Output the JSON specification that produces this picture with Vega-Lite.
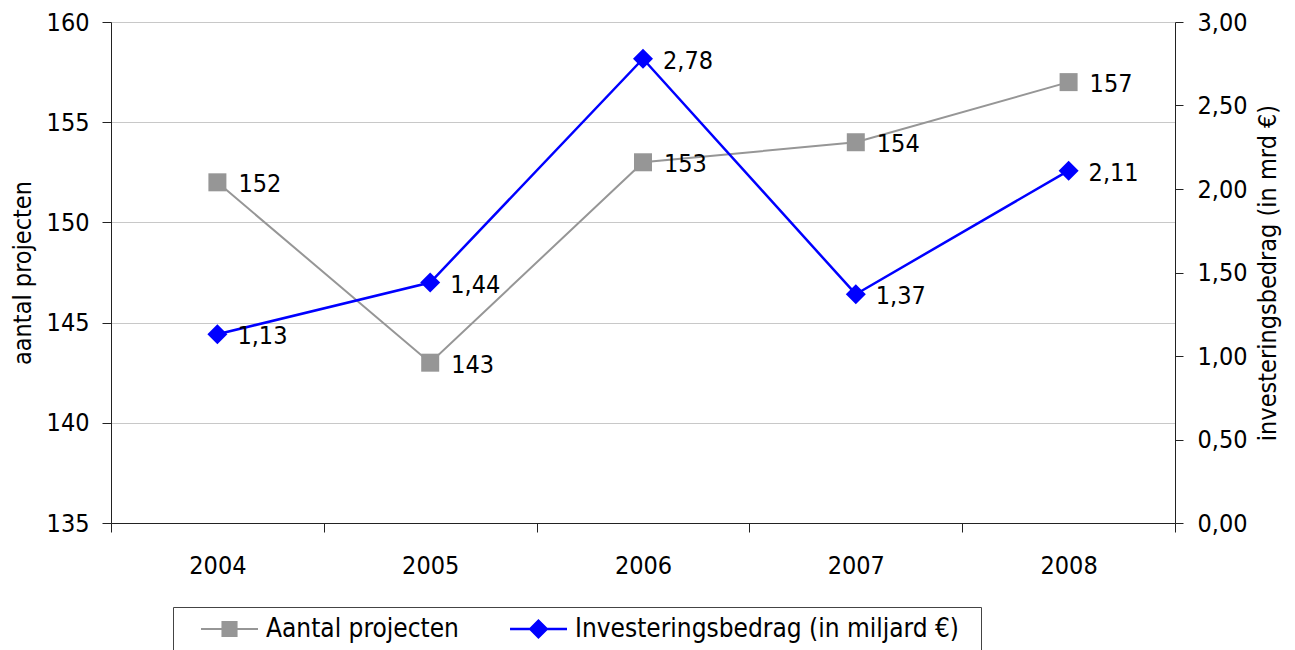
{
  "$schema": "https://vega.github.io/schema/vega-lite/v6.json",
  "width": 1064,
  "height": 501,
  "autosize": {"type": "none"},
  "padding": {"left": 111, "top": 22, "right": 120, "bottom": 127},
  "background": "white",
  "config": {
    "locale": {"number": {"decimal": ",", "thousands": ".", "grouping": [3], "currency": ["€", ""]}},
    "font": "DejaVu Sans Condensed",
    "view": {"stroke": null},
    "axis": {
      "labelFont": "DejaVu Sans Condensed",
      "titleFont": "DejaVu Sans Condensed",
      "labelFontSize": 25,
      "titleFontSize": 25,
      "titleFontWeight": "normal",
      "labelColor": "#000000",
      "titleColor": "#000000",
      "domainColor": "#222222",
      "tickColor": "#222222",
      "gridColor": "#c8c8c8",
      "gridWidth": 1
    },
    "legend": {"labelFont": "DejaVu Sans Condensed", "titleFont": "DejaVu Sans Condensed"}
  },
  "data": {
    "values": [
      {"year": "2004", "series": "Aantal projecten", "value": 152},
      {"year": "2005", "series": "Aantal projecten", "value": 143},
      {"year": "2006", "series": "Aantal projecten", "value": 153},
      {"year": "2007", "series": "Aantal projecten", "value": 154},
      {"year": "2008", "series": "Aantal projecten", "value": 157},
      {"year": "2004", "series": "Investeringsbedrag (in miljard €)", "value": 1.13},
      {"year": "2005", "series": "Investeringsbedrag (in miljard €)", "value": 1.44},
      {"year": "2006", "series": "Investeringsbedrag (in miljard €)", "value": 2.78},
      {"year": "2007", "series": "Investeringsbedrag (in miljard €)", "value": 1.37},
      {"year": "2008", "series": "Investeringsbedrag (in miljard €)", "value": 2.11}
    ]
  },
  "encoding": {
    "x": {
      "field": "year",
      "type": "ordinal",
      "scale": {"type": "band", "paddingInner": 0, "paddingOuter": 0},
      "axis": {
        "title": null,
        "labelAngle": 0,
        "tickBand": "extent",
        "tickSize": 9,
        "labelPadding": 21,
        "grid": false
      }
    }
  },
  "layer": [
    {
      "transform": [{"filter": "datum.series == 'Aantal projecten'"}],
      "encoding": {
        "y": {
          "field": "value",
          "type": "quantitative",
          "scale": {"domain": [135, 160], "nice": false, "zero": false},
          "axis": {
            "orient": "left",
            "values": [135, 140, 145, 150, 155, 160],
            "format": "d",
            "title": "aantal projecten",
            "tickSize": 9,
            "labelPadding": 13,
            "titlePadding": 11,
            "grid": true
          }
        }
      },
      "layer": [
        {"mark": {"type": "line", "color": "#969696", "strokeWidth": 2}},
        {"mark": {"type": "point", "shape": "square", "size": 324, "filled": true, "opacity": 1, "color": "#969696"}},
        {
          "mark": {"type": "text", "align": "left", "baseline": "middle", "dx": 21, "dy": 2, "fontSize": 25, "color": "#000000"},
          "encoding": {"text": {"field": "value", "type": "quantitative", "format": "d"}}
        }
      ]
    },
    {
      "transform": [{"filter": "datum.series == 'Investeringsbedrag (in miljard €)'"}],
      "encoding": {
        "y": {
          "field": "value",
          "type": "quantitative",
          "scale": {"domain": [0, 3], "nice": false},
          "axis": {
            "orient": "right",
            "values": [0, 0.5, 1, 1.5, 2, 2.5, 3],
            "format": ".2f",
            "title": "investeringsbedrag (in mrd €)",
            "titleAngle": 270,
            "titleBaseline": "top",
            "tickSize": 8,
            "labelPadding": 14,
            "titlePadding": 8,
            "grid": false
          }
        }
      },
      "layer": [
        {"mark": {"type": "line", "color": "#0000ff", "strokeWidth": 2.5}},
        {"mark": {"type": "point", "shape": "diamond", "size": 400, "filled": true, "opacity": 1, "color": "#0000ff"}},
        {
          "mark": {"type": "text", "align": "left", "baseline": "middle", "dx": 20, "dy": 2, "fontSize": 25, "color": "#000000"},
          "encoding": {"text": {"field": "value", "type": "quantitative", "format": ".2f"}}
        }
      ]
    },
    {
      "transform": [{"filter": "false"}],
      "mark": {"type": "point", "filled": true, "opacity": 1},
      "encoding": {
        "color": {
          "field": "series",
          "type": "nominal",
          "scale": {"domain": ["Aantal projecten", "Investeringsbedrag (in miljard €)"], "range": ["#969696", "#0000ff"]},
          "legend": {
            "orient": "none",
            "legendX": 62,
            "legendY": 585,
            "direction": "horizontal",
            "title": "\u00a0",
            "titleOrient": "right",
            "titleFontSize": 26,
            "titlePadding": 14,
            "strokeColor": "#444444",
            "fillColor": "#ffffff",
            "padding": 8,
            "symbolSize": 784,
            "symbolStrokeWidth": 0,
            "symbolOpacity": 1,
            "labelFontSize": 26,
            "labelColor": "#000000",
            "labelOffset": 57,
            "labelLimit": 600,
            "columnPadding": 31
          }
        },
        "shape": {
          "field": "series",
          "type": "nominal",
          "scale": {
            "domain": ["Aantal projecten", "Investeringsbedrag (in miljard €)"],
            "range": [
              "M0.43,-0.07H4.5V0.07H0.43Z M1.89,-0.57H3.04V0.57H1.89Z",
              "M0.43,-0.09H4.5V0.09H0.43Z M2.46,-0.71L3.18,0L2.46,0.71L1.75,0Z"
            ]
          },
          "legend": {
            "orient": "none",
            "legendX": 62,
            "legendY": 585,
            "direction": "horizontal",
            "title": "\u00a0",
            "titleOrient": "right",
            "titleFontSize": 26,
            "titlePadding": 14,
            "strokeColor": "#444444",
            "fillColor": "#ffffff",
            "padding": 8,
            "symbolSize": 784,
            "symbolStrokeWidth": 0,
            "symbolOpacity": 1,
            "labelFontSize": 26,
            "labelColor": "#000000",
            "labelOffset": 57,
            "labelLimit": 600,
            "columnPadding": 31
          }
        }
      }
    }
  ],
  "resolve": {"scale": {"y": "independent"}}
}
